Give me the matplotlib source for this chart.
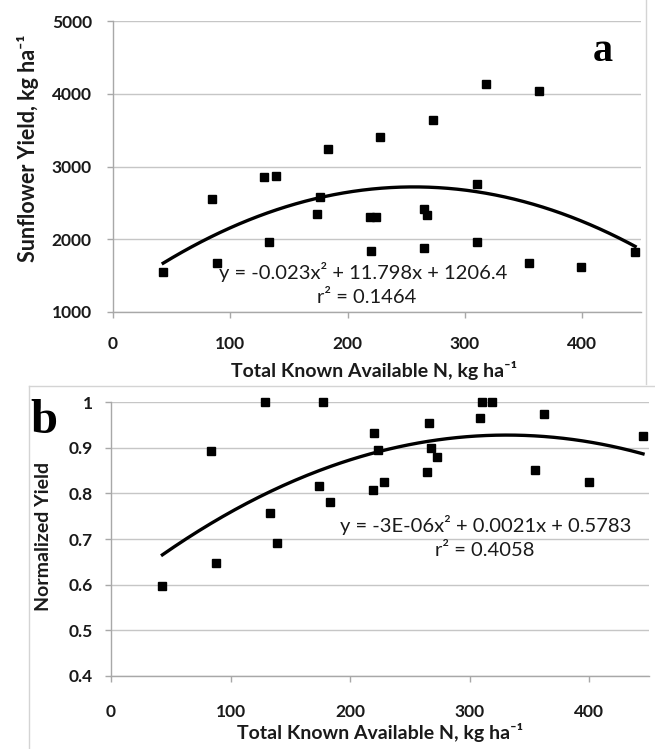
import numpy as np
import matplotlib
matplotlib.use("Agg")
import matplotlib.pyplot as plt
from matplotlib.lines import Line2D

# ---------------- data ----------------
total_n = [43, 85, 89, 129, 133, 139, 174, 177, 183, 219, 220, 224,
           228, 265, 265, 268, 273, 310, 310, 318, 355, 363, 399, 445]
yield_a = [1550, 2555, 1675, 2860, 1965, 2875, 2345, 2580, 3240, 2300, 1835, 2300,
           3412, 2420, 1875, 2327, 3645, 2755, 1965, 4140, 1677, 4035, 1622, 1825]
total_n_b = [43, 84, 88, 129, 133, 139, 174, 177, 183, 219, 220, 223,
             228, 264, 266, 268, 273, 309, 310, 319, 355, 362, 400, 445]
norm_yield = [0.596, 0.892, 0.647, 1.0, 0.758, 0.692, 0.815, 1.0, 0.782, 0.807, 0.933, 0.894,
              0.825, 0.846, 0.954, 0.900, 0.880, 0.966, 1.0, 1.0, 0.852, 0.974, 0.825, 0.926]

# trendline coefficients shown on panel a (quadratic, highest power first)
coef_a = [-0.023, 11.798, 1206.4]

eq_a = "y = -0.023x\u00b2 + 11.798x + 1206.4"
r2_a = "r\u00b2 = 0.1464"
eq_b = "y = -3E-06x\u00b2 + 0.0021x + 0.5783"
r2_b = "r\u00b2 = 0.4058"

xticks = [0, 100, 200, 300, 400]
yticks_a = [1000, 2000, 3000, 4000, 5000]
yticks_b = [0.4, 0.5, 0.6, 0.7, 0.8, 0.9, 1.0]
yticklabels_b = ["0.4", "0.5", "0.6", "0.7", "0.8", "0.9", "1"]

xlabel = "Total Known Available N, kg ha\u207b\u00b9"
ylabel_a = "Sunflower Yield, kg ha\u207b\u00b9"
ylabel_b = "Normalized Yield"

# ---------------- figure ----------------
W, H = 655, 749
fig = plt.figure(figsize=(W / 100, H / 100), dpi=100)
fig.patch.set_facecolor("white")

SANS = ["Lato", "DejaVu Sans"]
GRID = "#c6c6c6"
AXC = "#a8a8a8"
TXT = "#1a1a1a"

def px_rect(l, r, t, b):
    return [l / W, 1 - b / H, (r - l) / W, (b - t) / H]

def style(ax, ylim, yticks, yticklabels, ypad, xpad):
    ax.set_xlim(0, 450)
    ax.set_ylim(*ylim)
    ax.set_xticks(xticks)
    ax.set_xticklabels([str(v) for v in xticks])
    ax.set_yticks(yticks)
    ax.set_yticklabels(yticklabels)
    for s in ["top", "right"]:
        ax.spines[s].set_visible(False)
    for s in ["left", "bottom"]:
        ax.spines[s].set_color(AXC)
        ax.spines[s].set_linewidth(1.0)
    ax.yaxis.grid(True, color=GRID, linewidth=1.0)
    ax.set_axisbelow(True)
    ax.tick_params(axis="x", length=4, width=1, color=AXC, pad=xpad)
    ax.tick_params(axis="y", length=4, width=1, color=AXC, pad=ypad)
    for lab in ax.get_xticklabels() + ax.get_yticklabels():
        lab.set_family(SANS)
        lab.set_fontweight("bold")
        lab.set_fontsize(12.5)
        lab.set_color(TXT)

# ---------------- panel a ----------------
axa = fig.add_axes(px_rect(112.7, 641, 21, 312))
style(axa, (1000, 5000), yticks_a, [str(v) for v in yticks_a], 11, 13)
axa.plot(total_n, yield_a, "s", color="black", ms=5.8, zorder=4, clip_on=False)
xs_a = np.linspace(min(total_n), max(total_n), 200)
axa.plot(xs_a, np.polyval(coef_a, xs_a), color="black", lw=2.4, zorder=3)
axa.text(213, 1550, eq_a, ha="center", va="center", fontsize=14.5,
         family=SANS, color=TXT, zorder=5)
axa.text(216, 1195, r2_a, ha="center", va="center", fontsize=14.5,
         family=SANS, color=TXT, zorder=5)

# ---------------- panel b ----------------
axb = fig.add_axes(px_rect(111, 649, 402, 676))
style(axb, (0.4, 1.0), yticks_b, yticklabels_b, 9, 16)
axb.plot(total_n_b, norm_yield, "s", color="black", ms=5.8, zorder=4, clip_on=False)
coef_b = np.polyfit(total_n_b, norm_yield, 2)
xs_b = np.linspace(min(total_n_b), max(total_n_b), 200)
axb.plot(xs_b, np.polyval(coef_b, xs_b), color="black", lw=2.4, zorder=3)
axb.text(313, 0.730, eq_b, ha="center", va="center", fontsize=14.5,
         family=SANS, color=TXT, zorder=5)
axb.text(313, 0.675, r2_b, ha="center", va="center", fontsize=14.5,
         family=SANS, color=TXT, zorder=5)

# ---------------- labels ----------------
fig.text(374 / W, 1 - 371 / H, xlabel, ha="center", va="center",
         family=SANS, fontweight="bold", fontsize=14, color=TXT)
fig.text(380 / W, 1 - 733 / H, xlabel, ha="center", va="center",
         family=SANS, fontweight="bold", fontsize=14, color=TXT)
fig.text(28 / W, 1 - 148 / H, ylabel_a, ha="center", va="center", rotation=90,
         family=SANS, fontweight="bold", fontsize=15.5, color=TXT)
fig.text(44 / W, 1 - 536 / H, ylabel_b, ha="center", va="center", rotation=90,
         family=SANS, fontweight="bold", fontsize=14, color=TXT)

fig.text(603 / W, 1 - 61 / H, "a", ha="center", va="baseline",
         family="Liberation Serif", fontweight="bold", fontsize=29)
fig.text(44 / W, 1 - 433 / H, "b", ha="center", va="baseline",
         family="Liberation Serif", fontweight="bold", fontsize=35)

# chart-area frames
FR = "#d4d4d4"
fig.add_artist(Line2D([646 / W, 646 / W], [1, 1 - 384 / H], color=FR, lw=1,
                      transform=fig.transFigure))
fig.add_artist(Line2D([28.5 / W, 1], [1 - 386 / H, 1 - 386 / H], color=FR, lw=1,
                      transform=fig.transFigure))
fig.add_artist(Line2D([28.5 / W, 28.5 / W], [1 - 386 / H, 0], color=FR, lw=1,
                      transform=fig.transFigure))

fig.savefig("out.png", dpi=100, facecolor="white")
